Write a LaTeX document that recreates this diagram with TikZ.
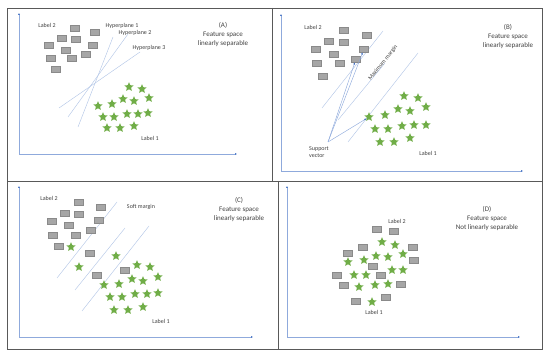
\documentclass[tikz,border=0pt]{standalone}
\usepackage{fontspec}
\setmainfont{Carlito}
\usepackage{tikz}
\usetikzlibrary{arrows.meta, positioning, shapes.geometric}
\definecolor{boxgray}{HTML}{A6A6A6}
\definecolor{boxedge}{HTML}{8A8A8A}
\definecolor{stargreen}{HTML}{70AD47}
\definecolor{planeblue}{HTML}{B4C7E7}
\definecolor{axisblue}{HTML}{8FAADC}
\definecolor{tipblue}{HTML}{4472C4}
\definecolor{txtgray}{HTML}{404040}
\definecolor{framegray}{HTML}{595959}

\begin{document}
\begin{tikzpicture}[x=1pt, y=-1pt,
        sq/.style={draw=boxedge, fill=boxgray, line width=0.3pt, inner sep=0pt,
                   minimum width=9.2pt, minimum height=6.4pt},
        st/.style={star, star points=5, star point ratio=2.15, fill=stargreen,
                   inner sep=0pt, minimum size=9.6pt},
        lbl/.style={font=\fontsize{6}{7}\selectfont, text=txtgray, inner sep=0pt},
        ttl/.style={font=\fontsize{7}{9}\selectfont, text=txtgray, align=center, inner sep=0pt},
        axis/.style={{Latex[length=2pt, width=2pt, color=tipblue]}-{Latex[length=2pt, width=2pt, color=tipblue]},
                     draw=axisblue, line width=0.5pt},
        plane/.style={draw=planeblue, line width=0.45pt},
        arr/.style={-{Latex[length=2.2pt, width=2pt, color=tipblue]}, draw=axisblue, line width=0.45pt},
        frm/.style={draw=framegray, line width=0.8pt},
    ]

    \useasboundingbox (0,0) rectangle (550,358);

    % ---- Frame ----
    \draw[frm] (7,8) rectangle (542,349);
    \draw[frm] (7,181) -- (542,181);
    \draw[frm] (272,8) -- (272,181);
    \draw[frm] (278,181) -- (278,349);

    % ---- Axes ----
    \coordinate (oA) at (19,154);  \coordinate (yA) at (19,13);  \coordinate (xA) at (237,154);
    \coordinate (oB) at (281,171); \coordinate (yB) at (281,14); \coordinate (xB) at (523,171);
    \coordinate (oC) at (19,337);  \coordinate (yC) at (19,186); \coordinate (xC) at (253,337);
    \coordinate (oD) at (287,337); \coordinate (yD) at (287,186); \coordinate (xD) at (520,337);
    \foreach \p in {A,B,C,D}
        \draw[axis] (y\p) -- (o\p) -- (x\p);

    % ---- (A) three hyperplanes ----
    \draw[plane] (113,37) -- (78,127);
    \draw[plane] (128,34) -- (68,117);
    \draw[plane] (140,52) -- (59,108);

    \foreach \x/\y [count=\i] in {75/28, 95/32, 62/38, 76/39, 49/45, 66/50, 93/45, 86/54,
                                  51/58, 72/58, 56/69}
        \node[sq] (a-sq\i) at (\x,\y) {};
    \foreach \x/\y [count=\i] in {129/87, 142/89, 149/98, 123/99, 134/101, 112/104, 98/106,
                                  103/117, 114/117, 127/114, 138/114, 148/113, 107/128,
                                  120/128, 134/126}
        \node[st] (a-st\i) at (\x,\y) {};

    \node[lbl] (a-l2) at (47,25) {Label 2};
    \node[lbl] (a-l1) at (150,138) {Label 1};
    \node[lbl] (a-h1) at (122,26) {Hyperplane 1};
    \node[lbl] (a-h2) at (135,33) {Hyperplane 2};
    \node[lbl] (a-h3) at (149,48) {Hyperplane 3};
    \node[ttl] (a-ttl) at (223,34.5) {(A)\\Feature space\\linearly separable};

    % ---- (B) maximum margin ----
    \draw[plane] (383,31) -- (322,108);
    \draw[plane] (385,63) -- (338,120);
    \draw[plane] (418,53) -- (348,142);

    \foreach \x/\y [count=\i] in {344/30, 367/35, 329/41, 344/42, 316/49, 334/54, 364/49,
                                  356/59, 317/63, 340/63, 323/76}
        \node[sq] (b-sq\i) at (\x,\y) {};
    \foreach \x/\y [count=\i] in {404/96, 418/98, 426/107, 398/109, 410/111, 385/115, 369/117,
                                  375/129, 388/129, 402/126, 414/125, 426/125, 380/142,
                                  394/142, 410/138}
        \node[st] (b-st\i) at (\x,\y) {};

    \node[lbl] (b-l2) at (313,27) {Label 2};
    \node[lbl] (b-l1) at (428,153) {Label 1};
    \node[lbl, rotate=51.3] (b-mm) at (383,63) {Maximum margin};
    \node[lbl, align=left, anchor=west] (b-sv) at (309,152.5) {Support\\vector};
    \node[ttl] (b-ttl) at (508,37) {(B)\\Feature space\\linearly separable};

    \coordinate (sv) at (328,142);
    \draw[arr] (sv) -- (b-sq8);
    \draw[arr] (sv) -- (b-sq7);
    \draw[arr] (sv) -- (b-st7);

    % ---- (C) soft margin ----
    \draw[plane] (117,202) -- (57,278);
    \draw[plane] (125,228) -- (75,290);
    \draw[plane] (149,226) -- (82,311);

    \foreach \x/\y [count=\i] in {79/202, 101/207, 65/213, 79/214, 52/221, 69/225, 99/220,
                                  91/230, 53/235, 76/235, 59/246, 90/253, 97/275, 125/270}
        \node[sq] (c-sq\i) at (\x,\y) {};
    \foreach \x/\y [count=\i] in {71/247, 79/267, 116/256, 137/265, 150/267, 158/277, 132/279,
                                  143/281, 119/284, 104/285, 110/297, 122/297, 135/294,
                                  147/294, 158/293, 114/310, 128/310, 143/307}
        \node[st] (c-st\i) at (\x,\y) {};

    \node[lbl] (c-l2) at (49,198) {Label 2};
    \node[lbl] (c-l1) at (161,321) {Label 1};
    \node[lbl] (c-sm) at (141,207) {Soft margin};
    \node[ttl] (c-ttl) at (239,210) {(C)\\Feature space\\linearly separable};

    % ---- (D) not separable ----
    \foreach \x/\y [count=\i] in {377/229, 394/231, 363/247, 348/253, 413/247, 414/260,
                                  373/266, 337/275, 381/275, 344/285, 401/284, 386/297, 356/301}
        \node[sq] (d-sq\i) at (\x,\y) {};
    \foreach \x/\y [count=\i] in {382/242, 395/245, 403/254, 376/256, 388/257, 364/260,
                                  348/262, 392/270, 403/270, 354/275, 366/275, 388/284,
                                  375/285, 359/287, 372/302}
        \node[st] (d-st\i) at (\x,\y) {};

    \node[lbl] (d-l2) at (397,221) {Label 2};
    \node[lbl] (d-l1) at (374,312) {Label 1};
    \node[ttl] (d-ttl) at (487,219) {(D)\\Feature space\\Not linearly separable};

\end{tikzpicture}
\end{document}
